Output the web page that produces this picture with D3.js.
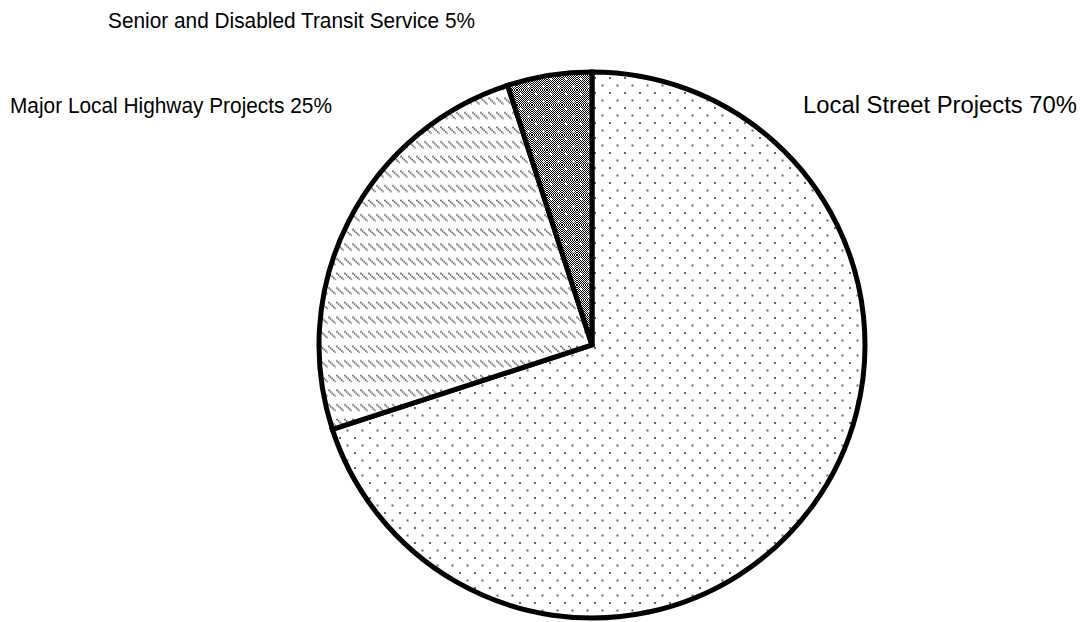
<!DOCTYPE html>
<html>
<head>
<meta charset="utf-8">
<script src="https://cdn.jsdelivr.net/npm/d3@7/dist/d3.min.js"></script>
<style>
  html, body { margin: 0; padding: 0; background: #fff; }
  svg { display: block; }
  text { font-family: "Liberation Sans", Arial, sans-serif; fill: #000; }
</style>
</head>
<body>
<div id="chart"></div>
<script>
// slice data, clockwise from 12 o'clock
var categories = ['Local Street Projects', 'Major Local Highway Projects', 'Senior and Disabled Transit Service'];
var shares = [70, 25, 5];
var labels = ['Local Street Projects 70%', 'Major Local Highway Projects 25%', 'Senior and Disabled Transit Service 5%'];

var width = 1084, height = 622;
var cx = 592, cy = 345, radius = 273;

// label placement: x, baseline y, drawn width, font size
var labelPos = [[803, 113, 274, 23], [10, 113, 322, 22], [108, 28, 367, 22]];

var svg = d3.select('#chart')
  .append('svg')
  .attr('width', width)
  .attr('height', height);

var defs = svg.append('defs');

// sparse dots for the big slice
var dots = defs.append('pattern')
  .attr('id', 'dots')
  .attr('patternUnits', 'userSpaceOnUse')
  .attr('width', 15).attr('height', 15);
dots.append('rect').attr('width', 15).attr('height', 15).attr('fill', '#fff');
dots.append('rect').attr('x', 2).attr('y', 2).attr('width', 2).attr('height', 2).attr('fill', '#666');
dots.append('rect').attr('x', 9.5).attr('y', 9.5).attr('width', 2).attr('height', 2).attr('fill', '#666');

// short diagonal dashes
var dashes = defs.append('pattern')
  .attr('id', 'dashes')
  .attr('patternUnits', 'userSpaceOnUse')
  .attr('width', 8).attr('height', 14.6);
dashes.append('rect').attr('width', 8).attr('height', 14.6).attr('fill', '#fff');
dashes.append('line')
  .attr('x1', 0.5).attr('y1', 1).attr('x2', 7.5).attr('y2', 7.5)
  .attr('stroke', '#555').attr('stroke-width', 1.8)
  .attr('stroke-dasharray', '1.4 0.8');

// fine checker with white dots
var checker = defs.append('pattern')
  .attr('id', 'checker')
  .attr('patternUnits', 'userSpaceOnUse')
  .attr('width', 2).attr('height', 2);
checker.append('rect').attr('width', 2).attr('height', 2).attr('fill', '#fff');
checker.append('rect').attr('width', 1).attr('height', 1).attr('fill', '#000');
checker.append('rect').attr('x', 1).attr('y', 1).attr('width', 1).attr('height', 1).attr('fill', '#000');

var grid = defs.append('pattern')
  .attr('id', 'grid')
  .attr('patternUnits', 'userSpaceOnUse')
  .attr('width', 15).attr('height', 15);
grid.append('rect').attr('width', 15).attr('height', 15).attr('fill', 'url(#checker)');
grid.append('rect').attr('x', 3).attr('y', 3).attr('width', 2).attr('height', 2).attr('fill', '#fff');
grid.append('rect').attr('x', 10.5).attr('y', 10.5).attr('width', 2).attr('height', 2).attr('fill', '#fff');

var fills = d3.scaleOrdinal()
  .domain(categories)
  .range(['url(#dots)', 'url(#dashes)', 'url(#grid)']);

var pie = d3.pie().sort(null).value(function(d){ return d; });
var arc = d3.arc().innerRadius(0).outerRadius(radius);

var g = svg.append('g').attr('transform', 'translate(' + cx + ',' + cy + ')');

g.selectAll('path')
  .data(pie(shares))
  .enter()
  .append('path')
  .attr('d', arc)
  .attr('fill', function(d, i){ return fills(categories[i]); })
  .attr('stroke', '#000')
  .attr('stroke-width', 5)
  .attr('stroke-linejoin', 'miter');

svg.selectAll('text.lbl')
  .data(labels)
  .enter()
  .append('text')
  .attr('class', 'lbl')
  .attr('x', function(d, i){ return labelPos[i][0]; })
  .attr('y', function(d, i){ return labelPos[i][1]; })
  .attr('font-size', function(d, i){ return labelPos[i][3] + 'px'; })
  .attr('textLength', function(d, i){ return labelPos[i][2]; })
  .attr('lengthAdjust', 'spacingAndGlyphs')
  .text(function(d){ return d; });
</script>
</body>
</html>
